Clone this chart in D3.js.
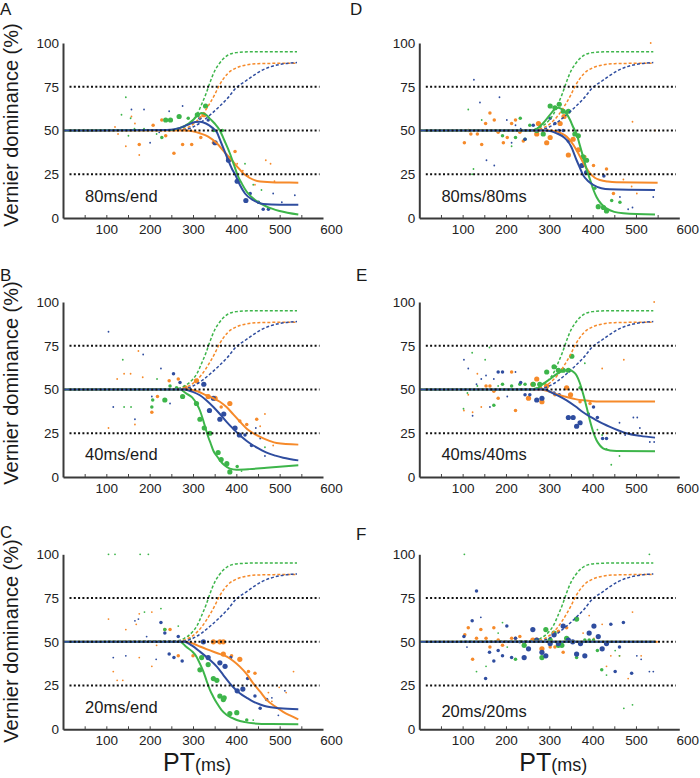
<!DOCTYPE html>
<html>
<head>
<meta charset="utf-8">
<script src="https://cdn.jsdelivr.net/npm/d3@7"></script>
<style>
  body { margin: 0; background: #fff; }
  svg { display: block; font-family: "Liberation Sans", Arial, sans-serif; }
</style>
</head>
<body>
<svg id="chart" width="700" height="778"></svg>
<script>
// ---- axis / tick values ----
const xTicks = [100, 200, 300, 400, 500, 600];
const xMinor = [50, 100, 150, 200, 250, 300, 350, 400, 450, 500, 550];
const yTicks = [0, 25, 50, 75, 100];
const refLines = [25, 50, 75];

// ---- dashed reference curves (same in every panel) ----
const dashGreen = [[0,50],[260,50.5],[280,52],[300,56],[310,59.5],[320,65],[330,71],[340,78],[350,84],[360,88],[370,91],[380,93],[400,94.5],[440,95],[540,95]];
const dashOrange = [[0,50],[260,50.3],[280,51],[300,53.5],[320,58.5],[340,66],[350,70.5],[360,75.5],[370,79.5],[380,82.5],[400,85.8],[420,87.3],[450,88.2],[540,88.5]];
const dashBlue = [[0,50],[280,50.5],[300,52],[320,55],[340,59],[360,63.5],[380,68.5],[400,74.5],[420,78],[440,81.5],[460,84.5],[480,86.5],[500,87.7],[540,88.8]];

// ---- fitted curves per panel ----
const solidA_green = [[0,50],[250,50.3],[270,51.5],[290,54],[300,56],[310,58.5],[320,60],[330,59],[340,56.5],[350,54],[362,50],[373,44],[385,37],[395,30],[402,25],[413,19.5],[424,15],[445,10],[470,6.5],[500,4],[543,2]];
const solidA_orange = [[0,50],[280,50],[300,49.5],[316,48.4],[335,46.5],[355,42.7],[375,37],[393,32],[405,28.5],[416,25.5],[430,23],[455,20.8],[490,20.3],[543,20.2]];
const solidA_blue = [[0,50],[240,50.3],[270,51.5],[290,53.5],[305,54.8],[316,55],[330,54],[345,51.5],[355,49],[365,43],[378,35],[390,28],[397,25],[408,19],[420,14],[440,10],[462,8],[500,7.6],[543,7.6]];

const solidB_green = [[0,50],[270,50],[285,47.6],[298,45.5],[308,42],[316,38],[324,32],[330,27],[335,23],[341,19],[347,15],[355,12],[362,9.5],[372,6.8],[385,4.8],[400,4.2],[430,4.5],[470,5.3],[543,6.7]];
const solidB_orange = [[0,50],[290,50],[310,49],[331,46.7],[347,45],[362,43],[378,39.8],[393,35.8],[408,31.7],[424,27.6],[439,25],[455,22.9],[475,20.8],[493,19.4],[543,18.5]];
const solidB_blue = [[0,50],[280,50],[298,48.8],[316,46.7],[330,44],[347,40],[362,36],[378,31.4],[393,27.5],[408,23.8],[424,20.6],[439,18],[455,15.8],[470,13.9],[490,12.2],[508,11],[543,9.5]];

const solidC_green = [[0,50],[270,50],[285,47],[298,44.5],[308,41.5],[316,37.5],[324,33],[331,28],[339,22.5],[347,18.5],[355,15],[366,11],[378,8.2],[390,6.5],[401,5.3],[420,4.1],[439,3.4],[480,3],[543,2.9]];
const solidC_orange = [[0,50],[280,50],[300,49],[316,47.3],[331,45.8],[355,43.6],[378,41.5],[393,39],[408,35.8],[424,31.5],[439,26.3],[455,21.5],[470,16.8],[490,13],[508,10],[525,7.8],[543,5.7]];
const solidC_blue = [[0,50],[280,50],[298,47.8],[316,44.4],[335,40.5],[355,35.8],[370,31],[385,26.3],[397,23],[408,20.6],[424,18],[439,15.8],[455,14.2],[470,13],[500,12],[543,11.4]];

const solidD_green = [[0,50],[260,50],[271,51],[285,54],[300,58.5],[312,62],[321,63],[330,62],[340,59.5],[348,56],[355,52],[363,48],[370,42],[378,35],[386,28],[394,22],[402,16],[409,12],[420,8],[432,5.5],[450,3.5],[471,2.7],[544,2]];
const solidD_orange = [[0,50],[300,50],[315,49.5],[328,48.3],[340,46.5],[355,42],[371,35],[383,29.5],[394,25.5],[405,23],[417,21.7],[435,20.8],[455,20.4],[550,20.2]];
const solidD_blue = [[0,50],[290,50],[305,49.5],[317,48.4],[330,46.8],[340,44.6],[350,41],[363,33],[370,29],[378,24.5],[390,21],[401,19],[420,17],[440,16.4],[544,16]];

const solidE_green = [[0,50],[260,50],[271,50.5],[287,53.5],[302,56],[315,58.5],[325,60],[337,60.8],[348,61],[356,60],[363,58],[370,54],[378,47.6],[386,40],[394,32],[401,26],[409,21],[417,18],[425,16.2],[440,15.2],[455,14.9],[544,14.7]];
const solidE_orange = [[0,50],[280,50],[302,48.6],[320,47],[340,45.7],[360,44.5],[378,43.8],[400,43.3],[417,43.2],[544,43.2]];
const solidE_blue = [[0,50],[290,50],[302,48.6],[320,46.5],[340,43.8],[360,40.4],[378,37],[394,34.5],[409,32.4],[425,30.3],[440,28.6],[460,26.6],[478,25],[510,23.5],[544,22.5]];

const solidF_green = [[0,50],[545,50]];
const solidF_orange = [[0,50],[550,50]];
const solidF_blue = [[0,50],[545,50]];

// ---- data points: [PT ms, dominance %, trial weight] ----
const dotsA_green = [[145,69,1],[135,59,1],[156,57,1],[151,47,1],[165,51,1],[187,51,1],[216,48,1],[228,46,2],[237,56,3],[248,56,3],[268,58,3],[289,57,2],[310,59,3],[329,64,3],[348,50,2],[368,50,2],[420,31,1],[439,19,1],[458,16,1]];
const dotsA_orange = [[120,52,1],[127,48,1],[145,41,1],[158,58,1],[166,54,1],[176,42,2],[176,36,1],[208,53,2],[228,56,2],[237,47,2],[256,37,2],[276,42,2],[297,42,2],[318,46,2],[325,59,3],[347,43,2],[382,34,3],[397,38,2],[402,31,1],[415,27,1],[428,24,1],[443,19,1],[468,33,1],[479,31,1],[488,21,1]];
const dotsA_blue = [[158,62,1],[187,62,1],[201,43,1],[222,49,1],[245,61,1],[276,64,1],[316,57,2],[335,56,2],[351,43,3],[382,33,3],[402,21,3],[422,10,3],[432,14,2],[451,9,2],[462,5,2],[474,5,2],[485,14,1],[505,9,1],[535,13,1]];

const dotsB_green = [[138,67,1],[141,40,1],[157,40,1],[205,40,2],[207,44,2],[217,56,1],[235,44,3],[247,52,2],[262,51,2],[276,46,3],[308,42,3],[316,33,3],[326,28,3],[339,25,3],[358,14,3],[365,10,3],[378,7.6,3],[385,2.9,3],[402,6,2],[412,3.4,1],[466,17,1]];
const dotsB_orange = [[105,28,1],[125,56,1],[141,59,1],[156,59,1],[174,72,1],[184,57,1],[166,30,1],[205,37,2],[218,46,2],[245,55,2],[266,56,2],[282,51,3],[308,55,3],[335,46,3],[351,45,3],[365,40,2],[385,42,3],[408,32,2],[424,30,2],[447,33,2],[455,29,1],[466,36,1],[485,18,1]];
const dotsB_blue = [[105,83,1],[116,40,1],[166,33,1],[185,70,1],[205,46,1],[226,62,1],[247,42,1],[255,59,2],[270,54,2],[293,50,2],[325,53,3],[338,38,3],[347,45,3],[362,33,3],[371,36,3],[397,28,3],[407,24,3],[420,24,2],[435,18,2],[445,28,1],[455,22,1],[466,12,1]];

const dotsC_green = [[105,100,1],[120,100,1],[178,100,1],[197,100,1],[188,67,1],[226,69,1],[235,57,2],[266,59,1],[293,52,1],[316,34,3],[320,41,3],[335,37,3],[347,29,3],[355,28,3],[362,19,3],[370,17,3],[372,18,3],[385,9,3],[401,9.5,3],[424,5.3,2],[439,5.3,1]];
const dotsC_orange = [[105,63,1],[116,33,1],[125,28,1],[138,28,1],[145,57,1],[169,60,1],[176,66,1],[176,41,1],[205,36,1],[205,67,1],[216,48,1],[235,57,2],[247,57,2],[266,42,2],[289,53,1],[300,42,2],[347,50,3],[362,50,3],[370,50,3],[370,43,3],[389,42,2],[408,40,3],[428,33,2],[443,32,2],[474,21,1],[482,16,1],[499,24,1],[515,21,1],[532,33,1]];
const dotsC_blue = [[116,41,1],[145,42,1],[166,62,1],[174,63,1],[193,53,1],[215,40,1],[226,61,2],[235,55,2],[245,43,2],[256,41,2],[266,53,2],[275,39,2],[324,50,3],[335,41,3],[362,38,3],[374,36,3],[387,41,2],[402,22,3],[415,23,3],[426,29,2],[443,19,2],[455,12,2],[470,17,2],[482,18,1],[497,8,1],[512,22,1]];

const dotsD_green = [[113,62,1],[122,25,1],[125,28,1],[144,56,1],[192,47,2],[213,41,1],[222,46,2],[233,57,2],[244,45,2],[255,53,2],[271,50,3],[286,48,3],[302,64,3],[313,63,3],[323,65,3],[332,61,3],[344,61,3],[359,48,3],[367,47,3],[378,35,3],[386,33,3],[405,17,2],[413,6.5,3],[425,6,3],[432,4,3],[444,10,2],[463,9,2]];
const dotsD_orange = [[104,43,2],[113,50,2],[119,48,2],[134,48,2],[144,42,2],[153,54,2],[163,60,2],[173,56,2],[182,49,2],[194,43,2],[203,46,2],[213,54,2],[222,56,2],[232,49,2],[240,44,2],[271,48,3],[275,54,3],[294,43,3],[302,46,3],[325,54,3],[334,58,3],[344,36,3],[355,45,3],[367,39,3],[382,35,2],[402,30,2],[432,28,2],[448,14,2],[471,22,1],[490,18,1],[502,14,1],[492,55,1],[534,100,1],[544,50,1]];
const dotsD_blue = [[126,79,1],[140,66,1],[155,33,1],[173,30,1],[185,69,1],[202,56,1],[213,43,1],[222,53,1],[234,51,1],[244,45,2],[263,53,2],[302,57,2],[313,54,2],[322,50,2],[332,50,2],[344,44,2],[375,30,3],[386,26,3],[426,24,2],[463,12,1],[482,5,1],[492,6,1],[540,12,1]];

const dotsE_green = [[102,39,1],[111,48,1],[122,71,1],[134,52,1],[152,67,1],[162,74,1],[172,41,2],[182,52,1],[192,53,2],[213,52,2],[232,53,2],[244,53,2],[263,53,3],[278,53,3],[294,60,3],[311,63,3],[321,61,3],[332,61,3],[344,61,3],[352,69,3],[371,51,2],[382,65,1],[411,27,1],[422,24,1],[432,16,1],[443,7,1],[462,12,1]];
const dotsE_orange = [[103,38,1],[113,47,1],[123,37,1],[134,59,1],[143,40,1],[154,52,2],[163,52,2],[172,49,2],[182,45,2],[213,60,2],[222,38,2],[252,45,3],[262,53,3],[271,56,3],[283,43,3],[294,52,3],[313,47,2],[340,51,3],[349,47,3],[371,43,2],[394,42,2],[422,62,1],[432,25,1],[472,67,1],[542,100,1]];
const dotsE_blue = [[103,67,1],[113,62,1],[123,35,1],[132,53,1],[143,56,1],[154,58,1],[163,40,1],[172,56,1],[182,60,2],[192,60,2],[203,46,1],[222,60,1],[234,54,2],[244,47,2],[255,47,2],[271,44,3],[283,45,3],[311,48,2],[323,47,2],[344,34,3],[355,34,3],[363,29,3],[371,31,3],[390,36,2],[402,40,2],[411,34,2],[423,22,2],[432,22,2],[462,31,1],[475,24,1],[494,34,1],[503,34,1],[509,28,1],[532,20,1],[542,20,1]];

const dotsF_green = [[104,100,1],[132,33,1],[154,36,1],[182,55,1],[192,61,1],[203,47,1],[222,40,2],[242,48,3],[283,41,3],[292,57,3],[302,51,3],[311,55,3],[321,48,3],[329,48,3],[340,52,3],[363,63,3],[363,41,2],[382,51,2],[392,51,2],[402,51,2],[411,45,2],[421,34,2],[432,31,1],[452,45,1],[462,42,1],[472,12,1],[492,14,1],[531,100,1]];
const dotsF_orange = [[105,54,2],[113,58,2],[123,40,2],[132,52,2],[142,57,2],[154,52,2],[163,47,2],[172,58,2],[182,51,2],[192,48,2],[202,50,1],[213,52,2],[222,52,2],[232,53,2],[242,49,2],[262,51,3],[271,51,3],[283,46,3],[302,47,2],[313,47,2],[321,56,2],[332,44,2],[340,58,2],[378,55,1],[392,65,1],[403,52,1],[422,60,1],[432,36,1],[442,42,1],[462,42,1],[482,29,1],[492,67,1],[512,42,1],[548,50,1]];
const dotsF_blue = [[103,53,2],[110,47,1],[122,62,2],[132,79,2],[142,64,1],[153,29,2],[162,44,2],[172,39,2],[182,45,2],[192,42,2],[202,59,2],[213,41,2],[222,52,2],[232,50,2],[242,41,3],[252,46,3],[262,57,3],[271,51,3],[283,44,3],[292,42,3],[302,49,3],[311,54,3],[321,49,3],[332,59,3],[344,51,3],[354,50,3],[363,43,3],[372,49,3],[382,42,3],[392,55,3],[403,59,3],[413,53,3],[422,46,3],[432,49,3],[442,60,2],[452,33,2],[462,47,2],[471,61,2],[482,50,1],[490,32,2],[502,42,1],[512,40,1],[531,33,1],[540,33,1]];

// ---- panels table ----
const panels = [
  { id: 'A', text: '80ms/end',  col: 0, row: 0, ty: 9,
    solid: { orange: solidA_orange, green: solidA_green, blue: solidA_blue },
    dots:  { orange: dotsA_orange, green: dotsA_green, blue: dotsA_blue } },
  { id: 'B', text: '40ms/end',  col: 0, row: 1, ty: 10,
    solid: { orange: solidB_orange, green: solidB_green, blue: solidB_blue },
    dots:  { orange: dotsB_orange, green: dotsB_green, blue: dotsB_blue } },
  { id: 'C', text: '20ms/end',  col: 0, row: 2, ty: 9.3,
    solid: { orange: solidC_orange, green: solidC_green, blue: solidC_blue },
    dots:  { orange: dotsC_orange, green: dotsC_green, blue: dotsC_blue } },
  { id: 'D', text: '80ms/80ms', col: 1, row: 0, ty: 9,
    solid: { orange: solidD_orange, green: solidD_green, blue: solidD_blue },
    dots:  { orange: dotsD_orange, green: dotsD_green, blue: dotsD_blue } },
  { id: 'E', text: '40ms/40ms', col: 1, row: 1, ty: 10,
    solid: { orange: solidE_orange, green: solidE_green, blue: solidE_blue },
    dots:  { orange: dotsE_orange, green: dotsE_green, blue: dotsE_blue } },
  { id: 'F', text: '20ms/20ms', col: 1, row: 2, ty: 7.2,
    solid: { orange: solidF_orange, green: solidF_green, blue: solidF_blue },
    dots:  { orange: dotsF_orange, green: dotsF_green, blue: dotsF_blue } }
];
const dashed = { green: dashGreen, orange: dashOrange, blue: dashBlue };

const color = { green: '#3db54a', orange: '#f68a2a', blue: '#2f4d9f' };

// layout
const colLeft = [63, 419.3];
const plotW = 260;
const rowTop = [43, 302, 554.3];
const rowBottom = [218, 477, 729.3];
const letterPos = { A: [0, 15], B: [0, 281], C: [0, 538], D: [350, 15], E: [356, 281], F: [356, 540] };
const ytitleY = [125, 383, 641];

const svg = d3.select('#chart');
const rScale = d3.scaleLinear().domain([1, 3]).range([0.9, 2.6]);

panels.forEach(p => {
  const x = d3.scaleLinear().domain([0, 600]).range([colLeft[p.col], colLeft[p.col] + plotW]);
  const y = d3.scaleLinear().domain([0, 100]).range([rowBottom[p.row], rowTop[p.row]]);
  const g = svg.append('g').attr('class', 'panel-' + p.id);

  const line = d3.line()
    .x(d => x(d[0]))
    .y(d => y(d[1]))
    .curve(d3.curveMonotoneX);

  // scatter
  ['orange', 'green', 'blue'].forEach(k => {
    g.append('g').selectAll('circle')
      .data(p.dots[k])
      .join('circle')
      .attr('cx', d => x(d[0]))
      .attr('cy', d => y(d[1]))
      .attr('r', d => rScale(d[2]))
      .attr('fill', color[k]);
  });

  // dashed curves
  ['green', 'orange', 'blue'].forEach(k => {
    g.append('path')
      .attr('d', line(dashed[k]))
      .attr('fill', 'none')
      .attr('stroke', color[k])
      .attr('stroke-width', 1.5)
      .attr('stroke-dasharray', '3,2');
  });

  // solid fitted curves
  ['orange', 'green', 'blue'].forEach(k => {
    g.append('path')
      .attr('d', line(p.solid[k]))
      .attr('fill', 'none')
      .attr('stroke', color[k])
      .attr('stroke-width', 2);
  });

  // dotted reference lines
  g.append('g').selectAll('line')
    .data(refLines)
    .join('line')
    .attr('x1', x(15)).attr('x2', x(592))
    .attr('y1', d => y(d)).attr('y2', d => y(d))
    .attr('stroke', '#111')
    .attr('stroke-width', 2)
    .attr('stroke-dasharray', '2,2.3');

  // axes
  const yAxis = g.append('g')
    .attr('transform', `translate(${x(0)},0)`)
    .call(d3.axisLeft(y).tickValues(yTicks).tickSize(0).tickPadding(4));
  const xAxis = g.append('g')
    .attr('transform', `translate(0,${y(0)})`)
    .call(d3.axisBottom(x).tickValues(xTicks).tickSize(0).tickSizeOuter(0).tickPadding(6));
  g.append('g')
    .attr('transform', `translate(0,${y(0)})`)
    .call(d3.axisBottom(x).tickValues(xMinor).tickSize(-3).tickFormat(''))
    .call(a => a.select('.domain').remove())
    .selectAll('line').attr('stroke', '#444').attr('stroke-width', 1);

  [yAxis, xAxis].forEach(a => {
    a.select('.domain').attr('stroke', '#3a3a3a').attr('stroke-width', 2);
    a.selectAll('text').attr('font-family', '"Liberation Sans", Arial, sans-serif')
      .attr('font-size', 13.5).attr('fill', '#222');
  });
  xAxis.selectAll('.tick text').filter(d => d === 600).attr('dx', 8);

  // condition label
  g.append('text')
    .attr('x', x(51))
    .attr('y', y(p.ty))
    .attr('font-size', 16.5)
    .attr('fill', '#1a1a1a')
    .text(p.text);

  // panel letter
  g.append('text')
    .attr('x', letterPos[p.id][0])
    .attr('y', letterPos[p.id][1])
    .attr('font-size', 17)
    .attr('fill', '#1a1a1a')
    .text(p.id);

  // y title on left column
  if (p.col === 0) {
    g.append('text')
      .attr('transform', `translate(17.5,${ytitleY[p.row]}) rotate(-90)`)
      .attr('text-anchor', 'middle')
      .attr('font-size', 20)
      .attr('fill', '#1a1a1a')
      .text('Vernier dominance (%)');
  }

  // x title on bottom row
  if (p.row === 2) {
    const t = g.append('text')
      .attr('x', colLeft[p.col] + 100)
      .attr('y', 771)
      .attr('fill', '#1a1a1a');
    t.append('tspan').attr('font-size', 25).text('PT');
    t.append('tspan').attr('font-size', 18).text('(ms)');
  }
});
</script>
</body>
</html>
